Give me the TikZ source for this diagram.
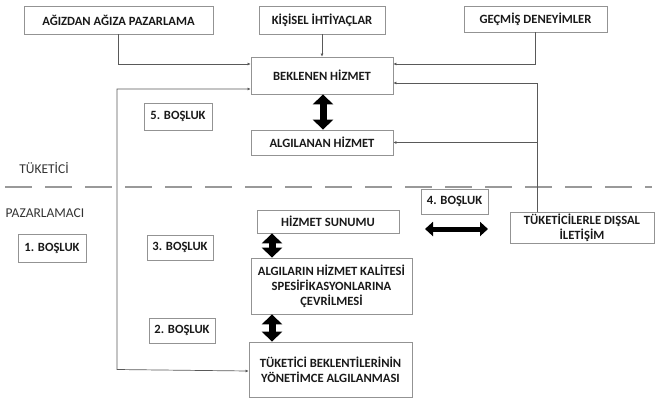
\documentclass[tikz,border=0pt]{standalone}
\usepackage{fontspec}
\setmainfont{Carlito}
\usetikzlibrary{arrows.meta}
\begin{document}
\begin{tikzpicture}[x=1pt,y=-1pt,
  box/.style={draw=gray!85, line width=0.8pt, rectangle, inner sep=1pt, align=center,
    font=\fontsize{12.6}{15}\selectfont\bfseries, text=black!90},
  lbl/.style={font=\fontsize{13.5}{15}\selectfont, text=black!80},
  conn/.style={draw=gray!70!black, line width=0.7pt, -{Latex[length=3pt,width=3pt]}},
  fat/.style={line width=7pt, {Triangle[width=20pt,length=10pt]}-{Triangle[width=20pt,length=10pt]}, black},
  fath/.style={line width=5pt, {Triangle[width=14pt,length=8pt]}-{Triangle[width=14pt,length=8pt]}, black},
  dashline/.style={draw=gray!80, line width=1.4pt, dash pattern=on 27pt off 13pt}
]
\useasboundingbox (0,0) rectangle (660,400);
% consumer side
\node[box, minimum width=189, minimum height=28] (agiz) at (118.5,20) {AĞIZDAN AĞIZA PAZARLAMA};
\node[box, minimum width=126, minimum height=28] (kisi) at (322,20) {KİŞİSEL İHTİYAÇLAR};
\node[box, minimum width=143, minimum height=26] (gecmis) at (535.5,19) {GEÇMİŞ DENEYİMLER};
\node[box, minimum width=142, minimum height=37] (bekl) at (322,75.5) {BEKLENEN HİZMET};
\node[box, minimum width=142, minimum height=25] (algi) at (322,142.5) {ALGILANAN HİZMET};
\node[box, minimum width=68, minimum height=27] (b5) at (178,116.5) {5. BOŞLUK};
\node[lbl] (tuketici) at (44,168) {TÜKETİCİ};
% separator
\coordinate (dl) at (5,187);
\coordinate (dr) at (652,187);
\draw[dashline] (dl) -- (dr);
% provider side
\node[lbl] (pazar) at (45,213) {PAZARLAMACI};
\node[box, minimum width=68, minimum height=28] (b1) at (52,248) {1. BOŞLUK};
\node[box, minimum width=66, minimum height=25] (b3) at (180,247.5) {3. BOŞLUK};
\node[box, minimum width=66, minimum height=25] (b2) at (182,330.5) {2. BOŞLUK};
\node[box, minimum width=142, minimum height=23] (sunum) at (328,221.5) {HİZMET SUNUMU};
\node[box, minimum width=161, minimum height=56] (algilar) at (331.5,286) {ALGILARIN HİZMET KALİTESİ\\SPESİFİKASYONLARINA\\ÇEVRİLMESİ};
\node[box, minimum width=163, minimum height=55] (tuk) at (330.5,369.5) {TÜKETİCİ BEKLENTİLERİNİN\\YÖNETİMCE ALGILANMASI};
\node[box, minimum width=67, minimum height=25] (b4) at (454.5,201.5) {4. BOŞLUK};
\node[box, minimum width=144, minimum height=31] (dis) at (582,227.5) {TÜKETİCİLERLE DIŞSAL\\İLETİŞİM};
% connectors
\coordinate (L) at (117,0);
\coordinate (R) at (537,0);
\draw[conn] (agiz.south) |- ([yshift=11.5pt]bekl.west);
\draw[conn] (kisi.south) -- (bekl.north);
\draw[conn] (gecmis.south) |- ([yshift=11.5pt]bekl.east);
\draw[conn, {Latex[length=3pt,width=3pt]}-{Latex[length=3pt,width=3pt]}] ([yshift=-13.5pt]bekl.west) -| (L |- tuk.west) -- ([yshift=-1.5pt]tuk.west);
\draw[conn] (R |- dis.north) |- ([yshift=-7.5pt]bekl.east);
\draw[conn] (R |- algi.east) -- (algi.east);
% gap arrows
\draw[fat] ([xshift=1pt]bekl.south) -- ([xshift=1pt]algi.north);
\draw[fat] ([xshift=-56pt]sunum.south) -- ([xshift=-59.5pt]algilar.north);
\draw[fat] ([xshift=-59.5pt]algilar.south) -- ([xshift=-58.5pt]tuk.north);
\coordinate (ha) at (425,229);
\coordinate (hb) at (488,229);
\draw[fath] (ha) -- (hb);
\end{tikzpicture}
\end{document}
